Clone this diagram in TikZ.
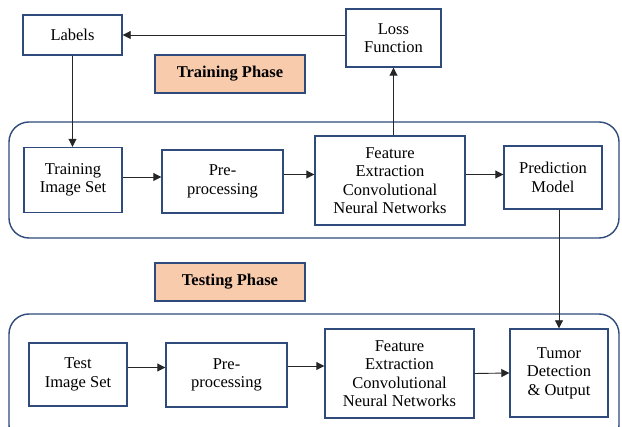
\documentclass[tikz,border=0pt]{standalone}
\usepackage{fontspec}
\setmainfont{Liberation Serif}
\usetikzlibrary{arrows.meta,calc}
\definecolor{boxblue}{HTML}{2F4B7C}
\definecolor{peach}{HTML}{F8CBAD}
\tikzset{
  blk/.style={draw=boxblue,line width=1.4pt,fill=white,align=center,inner sep=0pt,
    font=\fontsize{16.5}{18.5}\selectfont},
  phase/.style={draw=boxblue,line width=1.4pt,fill=peach,align=center,inner sep=0pt,
    minimum width=150pt,minimum height=38pt,font=\fontsize{16.5}{18.5}\selectfont\bfseries},
  grp/.style={draw=boxblue,line width=1.4pt,rounded corners=20pt},
  arr/.style={draw=black!85,line width=0.9pt,-{Triangle[length=8pt,width=8pt]}}
}
\begin{document}
\begin{tikzpicture}[x=1pt,y=-1pt]
\useasboundingbox (0,0) rectangle (622,427);
\clip (0,0) rectangle (622,427);
\fill[white] (0,0) rectangle (622,427);
% group frames
\draw[grp] (9,122) rectangle (619,238);
\draw[grp] (9,314) rectangle (619,445);
% top
\node[blk,minimum width=99pt,minimum height=40pt] (labels) at (72.5,35) {Labels};
\node[blk,minimum width=95pt,minimum height=58pt] (loss) at (393.5,38) {Loss\\Function};
\node[phase] (trainph) at (230,74) {Training Phase};
% training row
\node[blk,minimum width=98pt,minimum height=65pt] (trimg) at (73,180) {Training\\Image Set};
\node[blk,minimum width=121pt,minimum height=63pt] (trpre) at (222.5,181.5) {Pre-\\processing};
\node[blk,minimum width=150pt,minimum height=89pt] (trfe) at (390,180.5) {Feature\\Extraction\\Convolutional\\Neural Networks};
\node[blk,minimum width=98pt,minimum height=63pt] (pred) at (553,177.5) {Prediction\\Model};
% testing
\node[phase] (testph) at (230,282) {Testing Phase};
\node[blk,minimum width=98pt,minimum height=63pt] (teimg) at (78,374.5) {Test\\Image Set};
\node[blk,minimum width=121pt,minimum height=64pt] (tepre) at (226.5,375) {Pre-\\processing};
\node[blk,minimum width=149pt,minimum height=89pt] (tefe) at (399.5,373.5) {Feature\\Extraction\\Convolutional\\Neural Networks};
\node[blk,minimum width=98pt,minimum height=88pt] (tumor) at (559,373) {Tumor\\Detection\\\& Output};
% connector start points
\coordinate (a1) at ($(trimg.east)+(0,-3)$);
\coordinate (a2) at ($(trpre.east)+(0,-7)$);
\coordinate (a3) at ($(trfe.east)+(0,-6)$);
\coordinate (b1) at ($(teimg.east)+(0,-7)$);
\coordinate (b2) at ($(tepre.east)+(0,-9)$);
% connectors
\draw[arr] (loss.west |- labels.east) -- (labels.east);
\draw[arr] (labels.south) -- (labels.south |- trimg.north);
\draw[arr] (loss.south |- trfe.north) -- (loss.south);
\draw[arr] (a1) -- (a1 -| trpre.west);
\draw[arr] (a2) -- (a2 -| trfe.west);
\draw[arr] (a3) -- (a3 -| pred.west);
\draw[arr] (pred.south -| tumor.north) -- (tumor.north);
\draw[arr] (b1) -- (b1 -| tepre.west);
\draw[arr] (b2) -- (b2 -| tefe.west);
\draw[arr] (tefe.east) -- (tumor.west);
\end{tikzpicture}
\end{document}
